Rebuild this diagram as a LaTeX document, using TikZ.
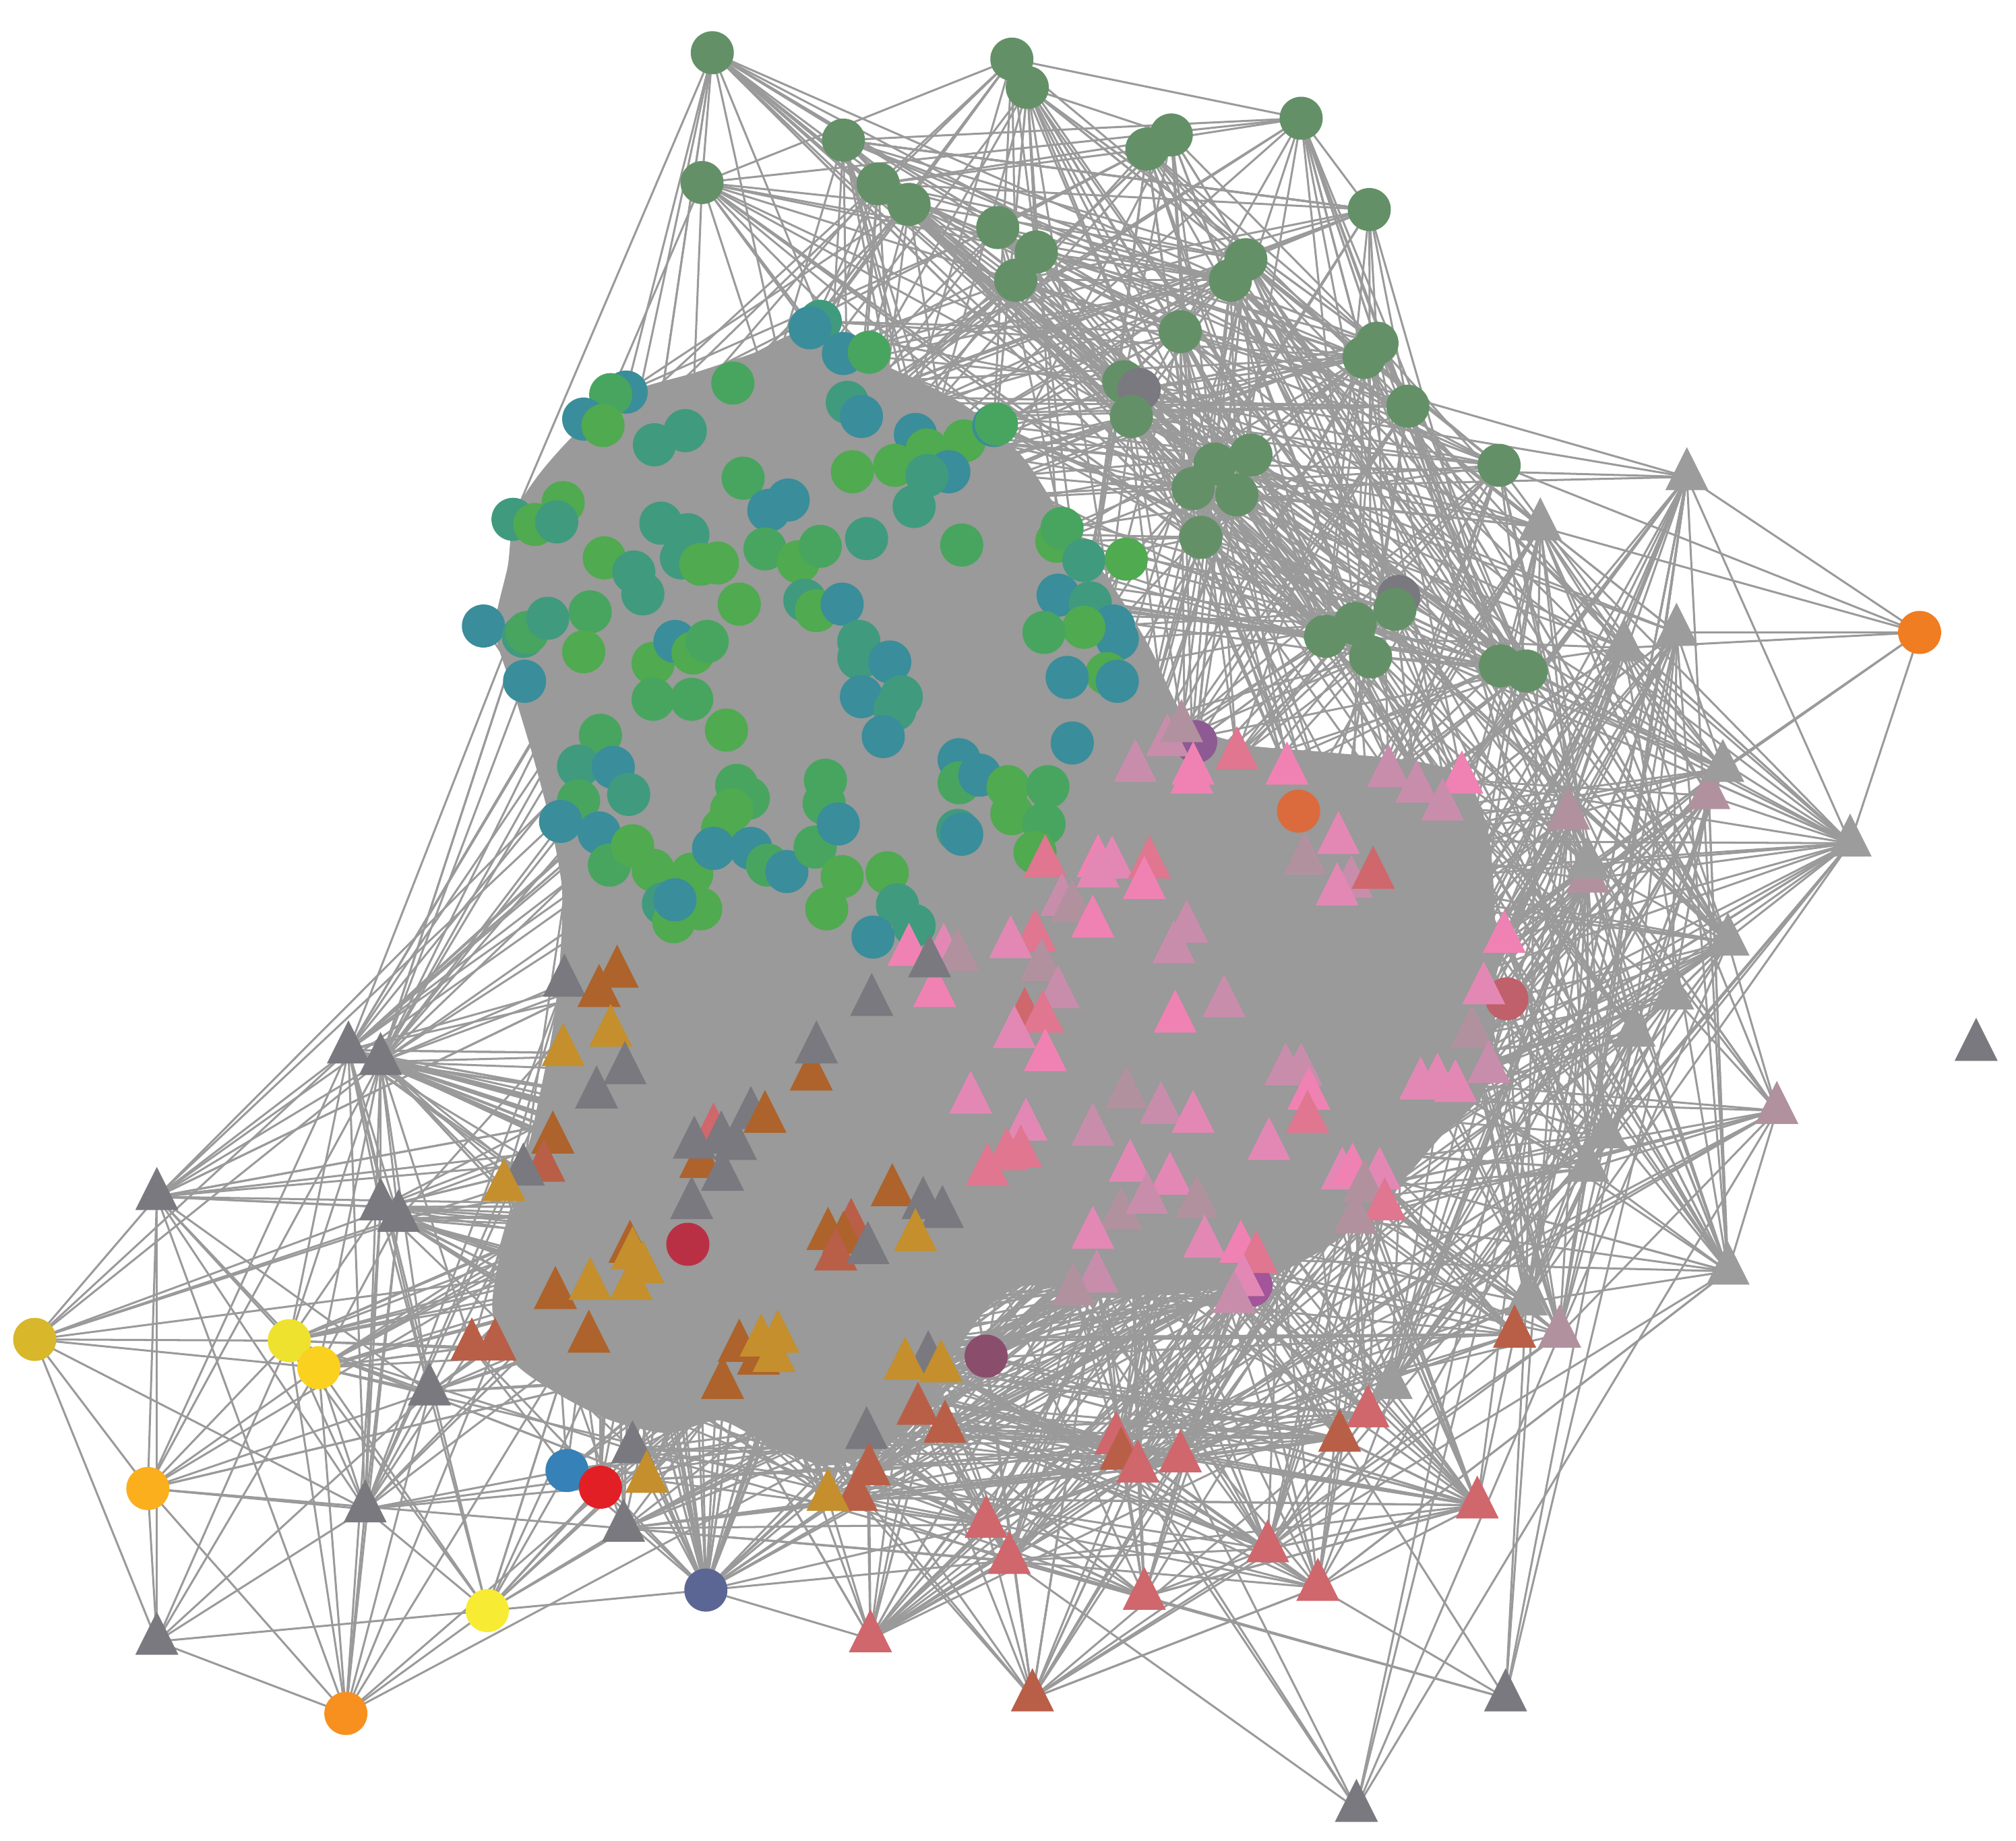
\documentclass[tikz,border=0pt]{standalone}
\usetikzlibrary{shapes.geometric}
\pgfdeclarelayer{bg}
\pgfsetlayers{bg,main}
\definecolor{edgec}{RGB}{153,154,153}
\definecolor{dg}{RGB}{100,144,104}
\definecolor{tb}{RGB}{58,141,154}
\definecolor{gr}{RGB}{80,170,80}
\definecolor{mg}{RGB}{72,165,95}
\definecolor{tg}{RGB}{64,154,126}
\definecolor{gt}{RGB}{122,121,127}
\definecolor{lg}{RGB}{155,156,155}
\definecolor{br}{RGB}{173,99,43}
\definecolor{mu}{RGB}{196,143,44}
\definecolor{sb}{RGB}{185,95,72}
\definecolor{hp}{RGB}{240,130,179}
\definecolor{mp}{RGB}{227,136,181}
\definecolor{mv}{RGB}{201,141,172}
\definecolor{dm}{RGB}{178,145,159}
\definecolor{ro}{RGB}{224,118,143}
\definecolor{sa}{RGB}{207,103,108}
\definecolor{colA}{RGB}{216,183,42}
\definecolor{colB}{RGB}{239,226,46}
\definecolor{colC}{RGB}{251,209,31}
\definecolor{colD}{RGB}{251,175,28}
\definecolor{colE}{RGB}{247,236,51}
\definecolor{colF}{RGB}{247,144,30}
\definecolor{colG}{RGB}{53,129,184}
\definecolor{colH}{RGB}{227,31,38}
\definecolor{colI}{RGB}{92,102,148}
\definecolor{colJ}{RGB}{185,48,69}
\definecolor{colK}{RGB}{139,77,108}
\definecolor{colL}{RGB}{219,107,61}
\definecolor{colM}{RGB}{192,96,106}
\definecolor{colN}{RGB}{142,90,148}
\definecolor{colO}{RGB}{162,85,153}
\definecolor{colP}{RGB}{240,125,34}
\tikzset{
  lnk/.style={draw=edgec, line width=0.45pt},
  circ/.style={circle, draw=none, inner sep=0pt, minimum size=0.335cm},
  tri/.style={isosceles triangle, isosceles triangle apex angle=53.13, shape border rotate=90, draw=none, inner sep=0pt, minimum width=0.335cm, minimum height=0.335cm},
}
\newcommand\rlinks[6]{%
  \foreach \ii in {#2}{\foreach \kk in {1,...,#3}{%
    \pgfmathrandominteger{\jj}{#5}{#6}%
    \draw[lnk] (#1\ii.center) -- (#4\jj.center);}}}
\begin{document}
\begin{tikzpicture}[x=0.01cm, y=-0.01cm]
\useasboundingbox (0,0) rectangle (1568,1432);
% teal / green cluster
\foreach \n/\x/\y/\c in {1/638/250/tg, 2/630/255/tb, 3/656/275/tb, 4/676/274/mg, 5/487/305/tb, 6/475/307/mg, 7/454/326/tb, 8/469/331/gr, 9/509/346/tg, 10/533/335/tg, 11/570/298/mg, 12/659/313/tg, 13/670/324/tb, 14/712/338/tb, 15/721/350/gr, 16/750/343/gr, 17/773/331/tb, 18/775/330/mg, 19/663/367/gr, 20/696/362/gr, 21/738/367/tb, 22/721/370/tg, 23/711/394/tg, 24/578/372/mg, 25/613/389/tb, 26/598/397/tb, 27/399/404/tg, 28/416/408/gr, 29/438/391/gr, 30/433/406/tg, 31/514/407/tg, 32/535/416/tg, 33/530/434/tg, 34/470/434/gr, 35/493/445/tg, 36/500/462/tg, 37/558/438/gr, 38/545/439/gr, 39/575/470/gr, 40/595/427/mg, 41/621/437/gr, 42/638/425/mg, 43/674/419/tg, 44/748/424/mg, 45/822/421/gr, 46/826/411/mg, 47/843/436/tg, 48/876/435/gr, 49/823/463/tb, 50/848/469/tg, 51/869/497/tb, 52/866/487/tb, 53/843/488/gr, 54/812/492/mg, 55/861/524/gr, 56/869/530/tb, 57/830/527/tb, 58/834/578/tb, 59/376/487/tb, 60/407/495/tg, 61/410/492/mg, 62/426/481/tg, 63/459/476/mg, 64/454/507/gr, 65/408/530/tb, 66/626/467/tg, 67/635/475/gr, 68/655/470/tb, 69/508/516/gr, 70/525/499/tb, 71/539/508/gr, 72/550/499/mg, 73/508/544/mg, 74/538/544/mg, 75/565/568/gr, 76/668/499/tg, 77/668/512/tg, 78/692/515/tb, 79/670/542/tb, 80/701/542/tg, 81/696/552/tg, 82/687/573/tb, 83/467/572/mg, 84/450/596/tg, 85/477/597/tb, 86/489/618/tg, 87/450/623/mg, 88/436/639/tb, 89/466/648/tb, 90/474/673/mg, 91/492/658/gr, 92/508/677/gr, 93/538/680/gr, 94/573/611/mg, 95/582/621/mg, 96/569/630/gr, 97/562/645/gr, 98/555/660/tb, 99/584/660/tb, 100/597/673/mg, 101/612/678/tb, 102/634/659/mg, 103/642/607/mg, 104/641/625/mg, 105/652/641/tb, 106/655/682/gr, 107/690/679/gr, 108/746/591/tb, 109/746/609/mg, 110/762/603/tb, 111/784/612/gr, 112/815/612/mg, 113/787/633/gr, 114/812/641/mg, 115/745/646/tg, 116/748/649/tb, 117/805/663/gr, 118/698/704/tg, 119/711/720/tg, 120/679/729/tb, 121/643/707/gr, 122/516/703/tg, 123/524/717/gr, 124/545/707/gr, 125/525/700/tb}
  \node[circ, fill=\c] (C\n) at (\x,\y) {};
% dark green cluster
\foreach \n/\x/\y in {1/554/41, 2/787/46, 3/799/68, 4/656/109, 5/546/142, 6/683/143, 7/707/159, 8/911/105, 9/892/116, 10/1012/92, 11/1065/163, 12/776/177, 13/806/196, 14/790/218, 15/969/202, 16/957/218, 17/918/258, 18/1071/267, 19/1061/278, 20/1095/316, 21/874/297, 23/1166/362, 24/973/354, 25/945/361, 26/928/380, 27/962/385, 28/934/418, 29/1054/485, 30/1031/495, 31/1066/511, 33/1167/518, 34/1187/522}
  \node[circ, fill=dg] (D\n) at (\x,\y) {};
\node[circ, fill=gt] (G1) at (886,303) {};
\node[circ, fill=gt] (G2) at (1088,464) {};
\node[circ, fill=dg] (D22) at (880,324) {};
\node[circ, fill=dg] (D32) at (1085,474) {};
% misc circles
\node[circ, fill=colJ] (M1) at (535,968) {};
\node[circ, fill=colK] (M2) at (767,1055) {};
\node[circ, fill=colL] (M3) at (1010,631) {};
\node[circ, fill=colM] (M4) at (1172,777) {};
\node[circ, fill=colN] (M5) at (930,577) {};
\node[circ, fill=colO] (M6) at (973,1000) {};
\node[circ, fill=colP] (O) at (1493,492) {};
% pink region
\foreach \n/\x/\y/\c in {1/908/578/mv, 2/919/567/dm, 3/883/598/mv, 4/928/600/hp, 5/927/607/hp, 6/962/588/ro, 7/1001/600/hp, 8/1080/602/mv, 9/1102/614/mv, 10/1137/607/hp, 11/1122/628/mv, 12/1041/654/mp, 13/1015/670/dm, 14/1051/688/mv, 15/1040/694/mp, 16/1068/681/sa, 17/813/672/ro, 18/854/672/hp, 19/865/673/mp, 20/894/673/ro, 21/890/689/hp, 22/854/680/mp, 23/826/702/mv, 24/834/707/dm, 25/850/719/hp, 26/805/730/ro, 27/923/723/mv, 28/913/739/mv, 29/786/735/mp, 30/810/753/dm, 31/823/774/mv, 32/952/781/mv, 33/914/793/hp, 34/797/791/sa, 35/811/793/ro, 36/789/805/mp, 37/813/823/hp, 38/1154/771/mp, 39/1170/731/hp, 40/1145/805/dm, 41/1158/832/mv, 42/1105/845/mp, 43/1118/842/mp, 44/1132/847/mp, 45/1000/834/mv, 46/1012/834/mv, 47/876/852/dm, 48/903/864/mv, 49/928/871/mp, 50/850/881/mv, 51/879/909/mp, 52/910/919/mp, 53/872/946/dm, 54/892/934/mv, 55/931/937/dm, 56/987/892/mp, 57/1018/853/hp, 58/1017/871/ro, 59/1044/915/mp, 60/1052/912/hp, 61/1073/915/mp, 62/1061/925/dm, 63/1077/939/ro, 64/1054/949/dm, 65/850/961/mp, 66/853/995/mv, 67/835/1005/dm, 68/937/968/mp, 69/965/972/hp, 70/977/980/ro, 71/967/998/mp, 72/960/1011/mv, 73/707/741/hp, 74/734/741/mp, 75/745/745/dm, 76/727/773/hp, 77/755/856/mp, 78/798/877/mp, 79/768/912/ro, 80/783/900/ro, 81/794/898/ro}
  \node[tri, fill=\c] (P\n) at (\x,\y) {};
% lower-left triangles
\foreach \n/\x/\y/\c in {1/439/765/gt, 2/480/758/br, 3/466/773/br, 4/475/804/mu, 5/438/819/mu, 6/486/833/gt, 7/464/852/gt, 8/631/838/br, 9/635/817/gt, 10/430/887/br, 11/423/909/sb, 12/407/912/gt, 13/392/924/mu, 14/545/906/br, 15/555/881/sa, 16/540/891/gt, 17/561/887/gt, 18/572/892/gt, 19/562/916/gt, 20/584/868/gt, 21/595/871/br, 22/538/938/gt, 23/694/928/br, 24/718/938/gt, 25/733/945/gt, 26/712/963/mu, 27/662/955/sb, 28/644/962/br, 29/656/965/br, 30/650/978/sb, 31/675/973/gt, 32/490/972/br, 33/492/977/mu, 34/500/988/mu, 35/491/1001/mu, 36/432/1008/br, 37/459/1001/mu, 38/458/1042/br, 39/385/1048/sb, 40/367/1048/sb, 41/575/1049/br, 42/590/1059/br, 43/592/1045/mu, 44/605/1042/mu, 45/602/1057/mu, 46/562/1078/br, 47/722/1058/gt, 48/704/1063/mu, 49/732/1065/mu, 50/714/1098/sb, 51/735/1112/sb, 52/674/1117/gt, 53/676/1145/sb, 54/666/1165/sb, 55/644/1165/mu, 56/492/1128/gt, 57/503/1151/mu, 58/485/1189/gt, 59/723/750/gt, 60/678/780/gt}
  \node[tri, fill=\c] (B\n) at (\x,\y) {};
% right triangles
\foreach \n/\x/\y/\c in {16/1220/635/dm, 17/1329/619/dm, 18/1235/684/dm, 19/1382/864/dm, 20/1213/1038/dm, 1/1312/371/lg, 2/1198/410/lg, 3/1263/504/lg, 4/1304/492/lg, 5/1340/598/lg, 6/1439/656/lg, 7/1235/673/lg, 8/1344/733/lg, 9/1301/775/lg, 10/1271/804/lg, 11/1249/883/lg, 12/1235/909/lg, 13/1344/989/lg, 14/1187/1013/lg, 15/1082/1078/lg}
  \node[tri, fill=\c] (R\n) at (\x,\y) {};
\node[tri, fill=gt] (X) at (1537,815) {};
% bottom triangles
\foreach \n/\x/\y/\c in {1/767/1186/sa, 2/785/1214/sa, 3/868/1121/sa, 4/872/1133/sb, 5/885/1143/sa, 6/918/1135/sa, 7/1064/1100/sa, 8/1042/1119/sb, 9/1178/1038/sb, 10/986/1205/sa, 11/1025/1235/sa, 12/890/1242/sa, 13/1149/1171/sa, 14/677/1275/sa, 15/803/1321/sb, 16/1171/1321/gt, 17/1055/1407/gt}
  \node[tri, fill=\c] (S\n) at (\x,\y) {};
% left nodes
\foreach \n/\x/\y in {1/271/817, 2/296/826, 3/122/931, 4/296/939, 5/310/948, 6/334/1083, 7/284/1174, 8/122/1277}
  \node[tri, fill=gt] (L\n) at (\x,\y) {};
\foreach \n/\x/\y/\c in {9/27/1042/colA, 10/225/1043/colB, 11/248/1064/colC, 12/115/1158/colD, 13/379/1253/colE, 14/269/1333/colF, 15/441/1144/colG, 16/467/1157/colH, 17/549/1237/colI}
  \node[circ, fill=\c] (L\n) at (\x,\y) {};

\begin{pgfonlayer}{bg}
\fill[edgec] plot[smooth cycle, tension=0.45] coordinates {(628,258) (690,285) (750,315) (795,355) (825,400) (865,455) (895,505) (920,555) (960,578) (1030,585) (1100,592) (1140,605) (1158,650) (1163,720) (1163,790) (1155,848) (1120,885) (1085,925) (1040,965) (990,992) (930,1005) (860,1008) (800,1000) (770,1015) (745,1050) (720,1095) (690,1125) (645,1140) (600,1125) (560,1105) (520,1115) (475,1105) (435,1085) (400,1060) (383,1020) (390,970) (405,920) (418,860) (430,800) (436,740) (437,690) (428,640) (415,590) (400,540) (385,490) (395,440) (400,400) (420,368) (450,335) (490,305) (540,290) (585,275)};
\pgfmathsetseed{12}
\rlinks{D}{1,...,34}{7}{D}{1}{34}
\rlinks{D}{1,...,34}{4}{C}{1}{58}
\rlinks{D}{1,...,7}{3}{C}{1}{36}
\rlinks{D}{15,...,34}{3}{R}{1}{13}
\rlinks{D}{17,...,34}{3}{P}{1}{44}
\rlinks{C}{1,...,125}{3}{C}{1}{125}
\rlinks{P}{1,...,81}{2}{P}{1}{81}
\rlinks{P}{8,...,16}{4}{R}{1}{20}
\rlinks{P}{38,...,44}{4}{R}{1}{20}
\rlinks{P}{56,...,64}{3}{R}{1}{20}
\rlinks{P}{45,...,72}{3}{S}{1}{15}
\rlinks{P}{1,...,16}{2}{D}{15}{34}
\rlinks{R}{1,...,20}{5}{R}{1}{20}
\rlinks{R}{1,...,8}{3}{D}{15}{34}
\rlinks{R}{1,...,20}{4}{P}{38}{72}
\rlinks{R}{9,...,20}{3}{S}{1}{15}
\rlinks{S}{1,...,17}{4}{S}{1}{15}
\rlinks{S}{1,...,15}{3}{P}{45}{72}
\rlinks{S}{1,...,15}{3}{B}{40}{60}
\rlinks{S}{16,17}{4}{R}{9}{20}
\rlinks{B}{1,...,60}{3}{B}{1}{60}
\rlinks{B}{1,...,60}{2}{C}{83}{125}
\rlinks{B}{20,...,60}{2}{P}{45}{81}
\rlinks{B}{38,...,58}{2}{S}{1}{15}
\rlinks{L}{1,2}{22}{B}{1}{40}
\rlinks{L}{1,2}{8}{C}{59}{90}
\rlinks{L}{1,2}{4}{C}{27}{36}
\rlinks{L}{3}{8}{B}{1}{40}
\rlinks{L}{3}{3}{C}{59}{90}
\rlinks{L}{4,5}{14}{B}{1}{58}
\rlinks{L}{6}{10}{B}{1}{58}
\rlinks{L}{7}{8}{B}{1}{58}
\rlinks{L}{9}{3}{B}{1}{40}
\rlinks{L}{10,11}{12}{B}{1}{58}
\rlinks{L}{12}{4}{B}{1}{58}
\rlinks{L}{13}{8}{B}{30}{58}
\rlinks{L}{14}{4}{B}{30}{58}
\rlinks{L}{15,16}{8}{B}{1}{58}
\rlinks{L}{17}{25}{B}{1}{60}
\rlinks{L}{17}{10}{C}{83}{125}
\rlinks{L}{17}{5}{P}{65}{81}
\rlinks{M}{1}{4}{B}{1}{60}
\rlinks{M}{2}{6}{S}{1}{15}
\rlinks{M}{2}{6}{P}{40}{81}
\rlinks{M}{2}{4}{B}{20}{60}
\rlinks{M}{6}{4}{P}{40}{72}
\rlinks{M}{4}{4}{R}{1}{20}
\rlinks{M}{4}{3}{P}{38}{64}
\rlinks{M}{3}{3}{P}{1}{30}
\rlinks{M}{5}{3}{D}{15}{34}
\rlinks{G}{1,2}{5}{D}{1}{34}
\rlinks{B}{23,...,31}{4}{P}{45}{72}
\rlinks{B}{47,...,55}{4}{P}{45}{72}
\rlinks{B}{47,...,55}{3}{S}{1}{15}
\rlinks{P}{65,...,72}{4}{B}{20}{58}
\foreach \a/\b in {L9/L3, L9/L1, L9/L2, L9/L11, L9/L12, L9/L7, L9/L8, L9/L5, L9/L10, L3/L8, L3/L1, L3/L2, L3/L12, L3/L14, L3/L10, L3/L11, L3/L7, L3/L6, L3/L4, L12/L10, L12/L11, L12/L7, L12/L14, L12/L6, L12/L1, L12/L2, L12/L8, L8/L7, L8/L13, L8/L14, L8/L10, L8/L6, L8/L11, L14/L7, L14/L13, L14/L4, L14/L5, L14/L10, L14/L11, L14/L6, L13/L17, L13/L15, L13/L16, L13/L7, L13/L10, L13/L11, L13/L4, L13/L1, L7/L1, L7/L2, L7/L6, L7/L10, L7/L11, L7/L15, L7/L16, L7/L4, L7/L5, L6/L1, L6/L2, L6/L10, L6/L11, L1/L2, L1/L4, L1/L5, L2/L4, L2/L5, L10/L1, L10/L2, L11/L2, L4/L10, L5/L11, L15/L16, L16/L17, L15/L17, L17/S14, L17/S1, L17/S2, O/R1, O/R2, O/R3, O/R4, O/R5, O/R6, O/R7, O/D23}
  \draw[lnk] (\a.center) -- (\b.center);
\end{pgfonlayer}
\end{tikzpicture}
\end{document}
